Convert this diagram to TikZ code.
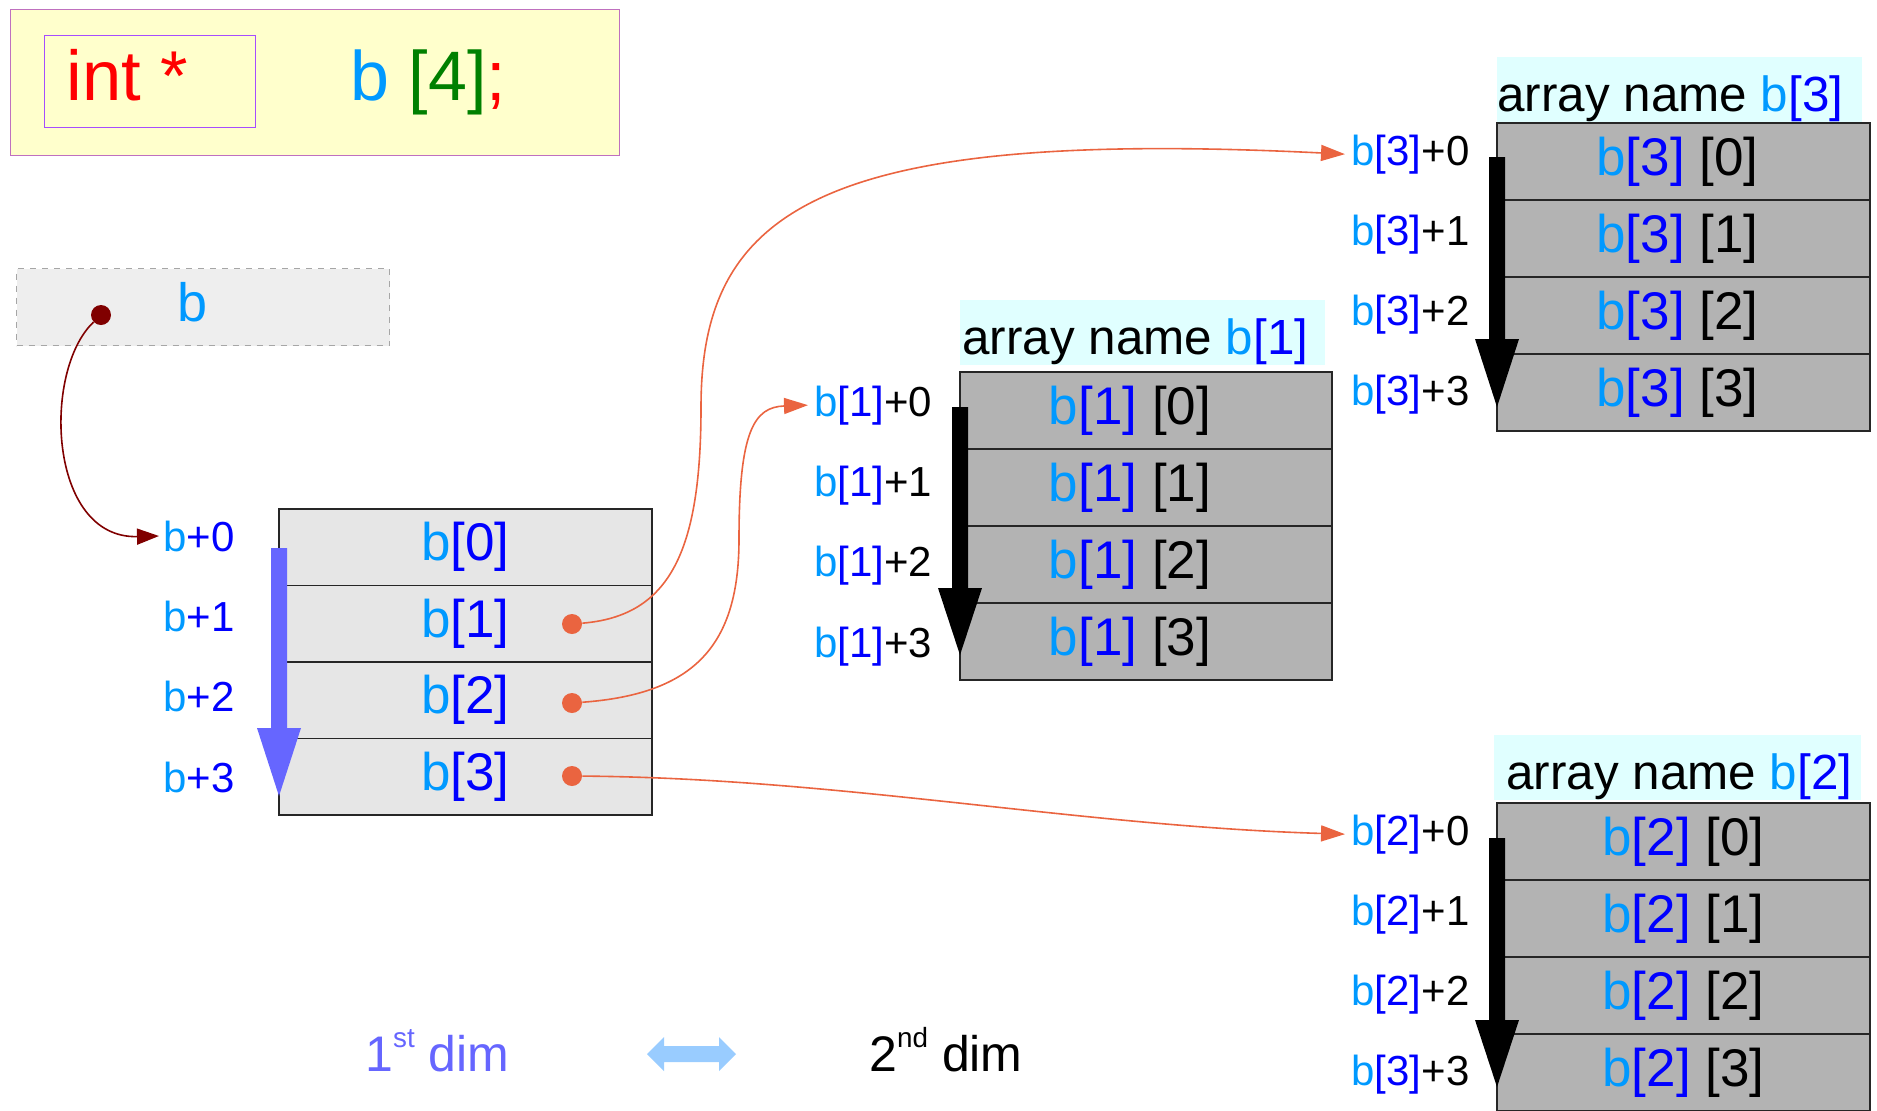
\documentclass[tikz,border=0pt]{standalone}
\usepackage{fontspec}
\setmainfont{Liberation Sans}
\usetikzlibrary{arrows.meta}
\definecolor{lblue}{HTML}{0099FF}
\definecolor{dblue}{HTML}{0000FF}
\definecolor{dgreen}{HTML}{008000}
\definecolor{yfill}{HTML}{FFFFCC}
\definecolor{ybord}{HTML}{BF70BF}
\definecolor{ibord}{HTML}{A64DFF}
\definecolor{lgfill}{HTML}{E6E6E6}
\definecolor{dgfill}{HTML}{B3B3B3}
\definecolor{cyanbg}{HTML}{E0FFFF}
\definecolor{bboxfill}{HTML}{EEEEEE}
\definecolor{arrblue}{HTML}{6666FF}
\definecolor{dblarrow}{HTML}{99CCFF}
\definecolor{orng}{HTML}{EA6440}
\definecolor{maroonc}{HTML}{800000}
\newcommand{\clb}[1]{\textcolor{lblue}{#1}}
\newcommand{\cdb}[1]{\textcolor{dblue}{#1}}
\newcommand{\supx}[1]{\raisebox{12pt}{\fontsize{13.9}{14}\selectfont #1}}
\begin{document}
\begin{tikzpicture}[x=0.5pt,y=-0.5pt,
  cellL/.style={draw=black!85, line width=0.7pt, fill=lgfill, minimum width=186.5pt, minimum height=38.25pt, inner sep=0pt, outer sep=0pt, anchor=north west, font=\fontsize{26.5}{30}\selectfont},
  cellD/.style={cellL, fill=dgfill, minimum height=38.5pt},
  lab/.style={anchor=base west, inner sep=0pt, font=\fontsize{21}{24}\selectfont},
  titlebg/.style={fill=cyanbg, inner sep=0pt, anchor=north west, minimum width=182.5pt, minimum height=32.5pt},
  titletxt/.style={anchor=base west, inner sep=0pt, font=\fontsize{24.7}{28}\selectfont},
  odot/.style={circle, fill=orng, minimum size=10pt, inner sep=0pt},
  oline/.style={draw=orng, line width=0.8pt, -{Triangle[length=12pt,width=8pt]}},
]
\useasboundingbox (0,0) rectangle (1877,1110);

% declaration box
\node[draw=ybord, line width=0.6pt, fill=yfill, anchor=north west, minimum width=304.5pt, minimum height=73pt, inner sep=0pt] (decl) at (10,9) {};
\node[draw=ibord, line width=0.6pt, anchor=north west, minimum width=105.5pt, minimum height=46pt, inner sep=0pt] (typebox) at (44,35) {};
\node[anchor=base west, inner sep=0pt, font=\fontsize{35.3}{40}\selectfont, text=red] (inttxt) at (66,100) {int *};
\node[anchor=base west, inner sep=0pt, font=\fontsize{35}{40}\selectfont] (decltxt) at (350,100) {\clb{b} \textcolor{dgreen}{[4]}\textcolor{red}{;}};

% pointer b
\node[draw=black!35, dashed, line width=0.6pt, fill=bboxfill, anchor=north west, minimum width=186.5pt, minimum height=38.5pt, inner sep=0pt] (bbox) at (16,268) {};
\node[anchor=base, inner sep=0pt, font=\fontsize{27}{30}\selectfont, text=lblue] (btxt) at (193,321) {b};
\node[circle, fill=maroonc, minimum size=10pt, inner sep=0pt] (bdot) at (101,315) {};

% main array
\foreach \i in {0,...,3}{
  \node[cellL] (m\i) at (279,{509+76.5*\i}) {\clb{b}\cdb{[\i]}};
}
\node[lab] (mb0) at (163,551) {\clb{b}\cdb{+0}};
\node[lab] (mb1) at (163,631) {\clb{b}\cdb{+1}};
\node[lab] (mb2) at (163,711) {\clb{b}\cdb{+2}};
\node[lab] (mb3) at (163,792) {\clb{b}\cdb{+3}};
\fill[arrblue] (271,548) -- (287,548) -- (287,728) -- (301,728) -- (279,796) -- (257,728) -- (271,728) -- cycle;

% dots
\node[odot] (d1) at (572,624) {};
\node[odot] (d2) at (572,703) {};
\node[odot] (d3) at (572,776) {};

% array b[1]
\node[titlebg] (t1bg) at (960,300) {};
\node[titletxt] (t1) at (962,354) {array name \clb{b}\cdb{[1]}};
\foreach \i in {0,...,3}{
  \node[cellD, minimum width=186pt] (p\i) at (960,{372+77*\i}) {\clb{b}\cdb{[1]} [\i]\hspace*{16pt}\null};
}
\node[lab] (pl0) at (814,416) {\clb{b}\cdb{[1]}+0};
\node[lab] (pl1) at (814,496) {\clb{b}\cdb{[1]}+1};
\node[lab] (pl2) at (814,576) {\clb{b}\cdb{[1]}+2};
\node[lab] (pl3) at (814,657) {\clb{b}\cdb{[1]}+3};
\fill[black] (952,407) -- (968,407) -- (968,588) -- (982,588) -- (960,655) -- (938,588) -- (952,588) -- cycle;

% array b[3]
\node[titlebg] (t3bg) at (1497,57) {};
\node[titletxt] (t3) at (1497,111) {array name \clb{b}\cdb{[3]}};
\foreach \i in {0,...,3}{
  \node[cellD] (q\i) at (1497,{123+77*\i}) {\clb{b}\cdb{[3]} [\i]\hspace*{6pt}\null};
}
\node[lab] (ql0) at (1351,165) {\clb{b}\cdb{[3]}+0};
\node[lab] (ql1) at (1351,245) {\clb{b}\cdb{[3]}+1};
\node[lab] (ql2) at (1351,325) {\clb{b}\cdb{[3]}+2};
\node[lab] (ql3) at (1351,405) {\clb{b}\cdb{[3]}+3};
\fill[black] (1489,157) -- (1505,157) -- (1505,339) -- (1519,339) -- (1497,407) -- (1475,339) -- (1489,339) -- cycle;

% array b[2]
\node[titlebg, minimum width=183.5pt] (t2bg) at (1494,735) {};
\node[titletxt] (t2) at (1506,789) {array name \clb{b}\cdb{[2]}};
\foreach \i in {0,...,3}{
  \node[cellD] (r\i) at (1497,{803+77*\i}) {\clb{b}\cdb{[2]} [\i]};
}
\node[lab] (rl0) at (1351,845) {\clb{b}\cdb{[2]}+0};
\node[lab] (rl1) at (1351,925) {\clb{b}\cdb{[2]}+1};
\node[lab] (rl2) at (1351,1005) {\clb{b}\cdb{[2]}+2};
\node[lab] (rl3) at (1351,1085) {\clb{b}\cdb{[3]}+3};
\fill[black] (1489,838) -- (1505,838) -- (1505,1020) -- (1519,1020) -- (1497,1087) -- (1475,1020) -- (1489,1020) -- cycle;

% connectors
\draw[draw=maroonc, line width=0.8pt, -{Triangle[length=11pt,width=8pt]}] (bdot) .. controls (42,371) and (48,539) .. ([xshift=-2pt]mb0.west);
\draw[oline] (d1) .. controls (670,616) and (701,551) .. (701,407) .. controls (701,210) and (820,128) .. ([xshift=-3pt]ql0.west);
\draw[oline] (d2) .. controls (694,694) and (739,646) .. (739,539) .. controls (739,431) and (754,407) .. ([xshift=-3pt]pl0.west);
\draw[oline] (d3) .. controls (838,778) and (1077,826) .. ([xshift=-3pt]rl0.west);

% legend
\node[anchor=base west, inner sep=0pt, font=\fontsize{25}{28}\selectfont, text=arrblue] (dim1) at (365,1071) {1\supx{st} dim};
\node[anchor=base west, inner sep=0pt, font=\fontsize{25}{28}\selectfont] (dim2) at (869,1071) {2\supx{nd} dim};
\fill[dblarrow] (647,1054) -- (664,1037) -- (664,1046) -- (719,1046) -- (719,1037) -- (736,1054) -- (719,1071) -- (719,1062) -- (664,1062) -- (664,1071) -- cycle;
\end{tikzpicture}
\end{document}
